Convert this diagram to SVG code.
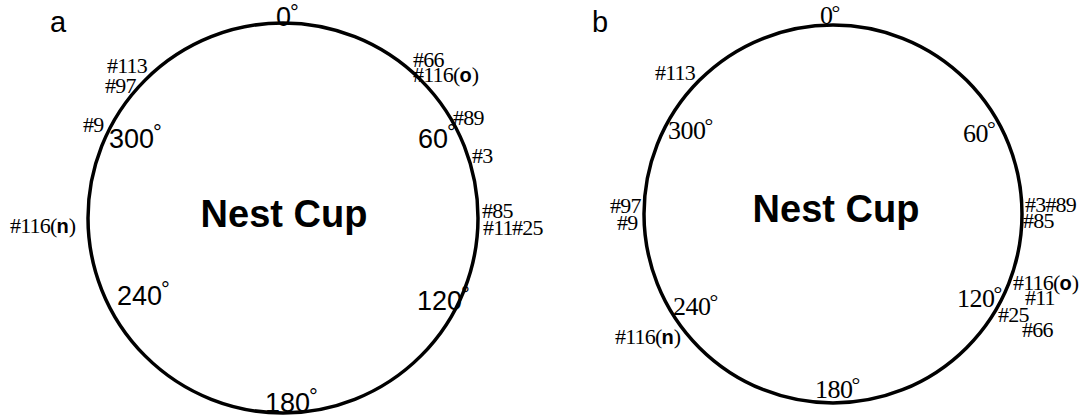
<svg xmlns="http://www.w3.org/2000/svg" width="1090" height="420" viewBox="0 0 1090 420">
<style>
.ring{fill:none;stroke:#000;stroke-width:3.5}
.panel{font-family:"Liberation Sans",Arial,sans-serif;font-size:29px;fill:#000}
.title{font-family:"Liberation Sans",Arial,sans-serif;font-weight:bold;font-size:38px;fill:#000;text-anchor:middle}
.dega{font-family:"Liberation Sans",Arial,sans-serif;font-size:27px;fill:#000}
.degb{font-family:"Liberation Serif","Times New Roman",serif;font-size:26px;fill:#000;letter-spacing:-0.5px}
.sup{font-size:22px}
.sp{font-family:"Liberation Serif","Times New Roman",serif;font-size:22px;fill:#000;letter-spacing:-0.8px}
.bd{font-family:"Liberation Sans",Arial,sans-serif;font-weight:bold;font-size:20px;letter-spacing:0}
</style>
<rect width="1090" height="420" fill="#fff"/>
<g id="panel-a">
  <text class="panel" x="50" y="32">a</text>
  <g id="cup-a">
    <circle class="ring" cx="283" cy="218" r="195"/>
    <text class="title" x="284" y="227">Nest Cup</text>
  </g>
  <g id="angles-a">
    <text class="dega" x="276" y="26">0<tspan class="sup" dx="-1" dy="-6">°</tspan></text>
    <text class="dega" x="418" y="148">60<tspan class="sup" dx="-1" dy="-8">°</tspan></text>
    <text class="dega" x="417" y="310">120<tspan class="sup" dx="-1" dy="-8">°</tspan></text>
    <text class="dega" x="265" y="412">180<tspan class="sup" dx="-1" dy="-8">°</tspan></text>
    <text class="dega" x="117" y="305">240<tspan class="sup" dx="-1" dy="-8">°</tspan></text>
    <text class="dega" x="109" y="148">300<tspan class="sup" dx="-1" dy="-8">°</tspan></text>
  </g>
  <g id="nests-a">
    <text class="sp" x="107" y="73">#113</text>
    <text class="sp" x="105" y="93">#97</text>
    <text class="sp" x="83" y="132">#9</text>
    <text class="sp" x="413" y="67">#66</text>
    <text class="sp" x="413" y="82">#116(<tspan class="bd">o</tspan>)</text>
    <text class="sp" x="453" y="125">#89</text>
    <text class="sp" x="472" y="163">#3</text>
    <text class="sp" x="482" y="218">#85</text>
    <text class="sp" x="483" y="235">#11</text>
    <text class="sp" x="512" y="235">#25</text>
    <text class="sp" x="10" y="233">#116(<tspan class="bd">n</tspan>)</text>
  </g>
</g>
<g id="panel-b">
  <text class="panel" x="592" y="32">b</text>
  <g id="cup-b">
    <circle class="ring" cx="833" cy="214" r="189"/>
    <text class="title" x="836" y="222">Nest Cup</text>
  </g>
  <g id="angles-b">
    <text class="degb" x="820" y="24">0<tspan class="sup" dx="-1" dy="-4">°</tspan></text>
    <text class="degb" x="963" y="142">60<tspan class="sup" dx="-1" dy="-6">°</tspan></text>
    <text class="degb" x="957" y="307">120<tspan class="sup" dx="-1" dy="-6">°</tspan></text>
    <text class="degb" x="815" y="398">180<tspan class="sup" dx="-1" dy="-6">°</tspan></text>
    <text class="degb" x="673" y="315">240<tspan class="sup" dx="-1" dy="-6">°</tspan></text>
    <text class="degb" x="668" y="139">300<tspan class="sup" dx="-1" dy="-6">°</tspan></text>
  </g>
  <g id="nests-b">
    <text class="sp" x="655" y="80">#113</text>
    <text class="sp" x="610" y="213">#97</text>
    <text class="sp" x="617" y="230">#9</text>
    <text class="sp" x="1025" y="212">#3#89</text>
    <text class="sp" x="1023" y="228">#85</text>
    <text class="sp" x="1013" y="290">#116(<tspan class="bd">o</tspan>)</text>
    <text class="sp" x="1025" y="305">#11</text>
    <text class="sp" x="998" y="322">#25</text>
    <text class="sp" x="1022" y="337">#66</text>
    <text class="sp" x="615" y="344">#116(<tspan class="bd">n</tspan>)</text>
  </g>
</g>
</svg>
